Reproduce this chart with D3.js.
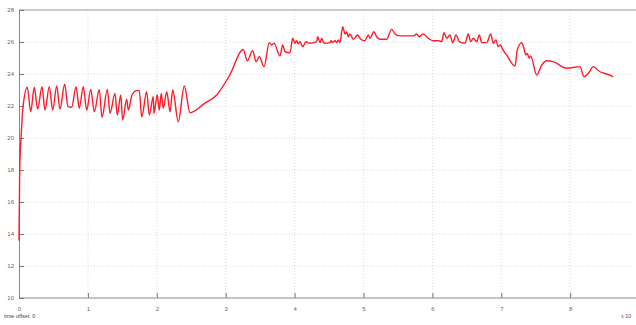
<!DOCTYPE html>
<html>
<head>
<meta charset="utf-8">
<script src="https://cdn.jsdelivr.net/npm/d3@7"></script>
<style>
  body { margin: 0; background: #fff; }
  svg { display: block; font-family: "Liberation Sans", Arial, sans-serif; }
</style>
</head>
<body>
<svg id="chart" width="636" height="325"></svg>
<script>
var xTicks = [0, 1, 2, 3, 4, 5, 6, 7, 8];
var yTicks = [10, 12, 14, 16, 18, 20, 22, 24, 26, 28];

var xs = [0, 0.01, 0.03, 0.054, 0.12, 0.17, 0.222, 0.271, 0.334, 0.377, 0.44, 0.489, 0.547, 0.595,
  0.663, 0.711, 0.765, 0.827, 0.875, 0.933, 0.983, 1.041, 1.093, 1.165, 1.205, 1.282, 1.321,
  1.393, 1.427, 1.476, 1.505, 1.563, 1.586, 1.64, 1.708, 1.746, 1.781, 1.853, 1.891, 1.949,
  1.959, 2.007, 2.036, 2.065, 2.094, 2.144, 2.192, 2.231, 2.312, 2.399, 2.482, 2.68, 2.869,
  3.06, 3.255,
  3.313, 3.392, 3.44, 3.488, 3.556, 3.633, 3.668, 3.701, 3.788, 3.827, 3.861, 3.933, 3.972,
  4.006, 4.03, 4.054, 4.078, 4.118, 4.165, 4.213, 4.321, 4.335, 4.369, 4.393, 4.427, 4.514,
  4.528, 4.553, 4.586, 4.611, 4.634, 4.659, 4.698, 4.732, 4.756, 4.779, 4.804, 4.852, 4.916,
  4.959, 5.022, 5.07, 5.094, 5.152, 5.191, 5.239, 5.337, 5.409, 5.457, 5.53, 5.723, 5.772,
  5.81, 5.868, 5.941, 6.013, 6.086, 6.135, 6.168, 6.207, 6.255, 6.295, 6.343, 6.39, 6.473,
  6.521, 6.556, 6.594, 6.643, 6.681, 6.716, 6.788, 6.846, 6.884, 6.923, 6.956, 6.991, 7.02,
  7.078, 7.199, 7.232, 7.296, 7.319, 7.358, 7.377, 7.406, 7.426, 7.514, 7.586, 7.659, 7.755,
  7.949, 8.142, 8.2, 8.263, 8.335, 8.433, 8.53, 8.626];

var ys = [13.6, 18, 20.0, 21.75, 23.17, 21.64, 23.17, 21.81, 23.21, 21.75, 23.21, 21.75, 23.25, 21.81,
  23.37, 21.96, 21.92, 23.21, 21.86, 23.21, 21.75, 23.04, 21.64, 23.04, 21.29, 23.04, 21.54,
  22.79, 21.44, 22.69, 21.12, 22.42, 21.75, 22.69, 22.96, 22.96, 21.31, 22.89, 21.44, 22.58,
  21.54, 22.69, 21.75, 22.79, 21.86, 22.89, 21.64, 23.0, 21.02, 23.25, 21.58, 22.12, 22.69,
  23.94, 25.54,
  24.83, 25.46, 24.77, 25.08, 24.46, 25.96, 25.81, 25.92, 25.13, 25.81, 25.39, 25.33, 26.23,
  25.92, 26.08, 25.88, 26.02, 25.71, 26.02, 25.92, 26.02, 26.33, 25.96, 26.23, 25.92, 25.96,
  26.08, 25.96, 26.08, 25.96, 26.13, 25.96, 26.96, 26.5, 26.64, 26.33, 26.5, 26.17, 26.44,
  26.17, 26.08, 26.44, 26.23, 26.64, 26.33, 26.17, 26.17, 26.79, 26.5, 26.38, 26.38, 26.5,
  26.33, 26.5, 26.23, 26.08, 26.08, 26.02, 26.58, 26.23, 26.44, 25.96, 26.44, 26.02, 25.92,
  26.5, 26.02, 26.23, 26.02, 26.44, 25.96, 25.96, 26.5, 25.92, 26.13, 25.71, 25.81, 25.54,
  25.19, 24.5, 25.5, 25.96, 25.75, 25.19, 25.29, 24.98, 25.13, 23.94, 24.56, 24.83, 24.77,
  24.36, 24.46, 23.83, 24.04, 24.46, 24.14, 24.0, 23.83];

var svg = d3.select("#chart");
var plotLeft = 19, plotRight = 634, plotTop = 10, plotBottom = 298;

var x = d3.scaleLinear().domain([0, (plotRight - plotLeft) / 68.9]).range([plotLeft, plotRight]);
var y = d3.scaleLinear().domain([10, 28]).range([plotBottom, plotTop]);

// grid
svg.append("g").selectAll("line")
  .data(xTicks.slice(1))
  .enter().append("line")
  .attr("x1", function(d) {return x(d);})
  .attr("x2", function(d) {return x(d);})
  .attr("y1", plotTop)
  .attr("y2", plotBottom)
  .attr("stroke", "#c8c8c8")
  .attr("stroke-width", 0.7)
  .attr("stroke-dasharray", "1,2");

svg.append("g").selectAll("line")
  .data(yTicks.slice(1, -1))
  .enter().append("line")
  .attr("x1", plotLeft)
  .attr("x2", plotRight)
  .attr("y1", function(d) {return y(d);})
  .attr("y2", function(d) {return y(d);})
  .attr("stroke", "#c8c8c8")
  .attr("stroke-width", 0.7)
  .attr("stroke-dasharray", "1,2");

// top border
svg.append("line")
  .attr("x1", plotLeft).attr("x2", 636)
  .attr("y1", plotTop).attr("y2", plotTop)
  .attr("stroke", "#999").attr("stroke-width", 1);

var xAxis = svg.append("g")
  .attr("transform", "translate(0," + plotBottom + ")")
  .call(d3.axisBottom(x).tickValues(xTicks).tickSizeInner(-5).tickSizeOuter(0).tickPadding(9));
xAxis.select(".domain").attr("stroke", "#888").attr("d", "M" + plotLeft + ",0H636");

var yAxis = svg.append("g")
  .attr("transform", "translate(" + plotLeft + ",0)")
  .call(d3.axisLeft(y).tickValues(yTicks).tickSizeInner(-5).tickSizeOuter(0).tickPadding(5));
yAxis.select(".domain").attr("stroke", "#888");

svg.selectAll(".tick line").attr("stroke", "#777");
svg.selectAll(".tick text").attr("fill", "#666").style("font-size", "6px");

var line = d3.line()
  .x(function(d, i) {return x(xs[i]);})
  .y(function(d) {return y(d);})
  .curve(d3.curveMonotoneX);

svg.append("path")
  .datum(ys)
  .attr("d", line)
  .attr("fill", "none")
  .attr("stroke", "#ff1a2a")
  .attr("stroke-width", 1.4);

svg.append("text")
  .attr("x", 4).attr("y", 318)
  .attr("fill", "#444").style("font-size", "5.5px")
  .text("time offset:  0");

svg.append("text")
  .attr("x", 621).attr("y", 318)
  .attr("fill", "#555").style("font-size", "5.5px")
  .text("x 10");
</script>
</body>
</html>
